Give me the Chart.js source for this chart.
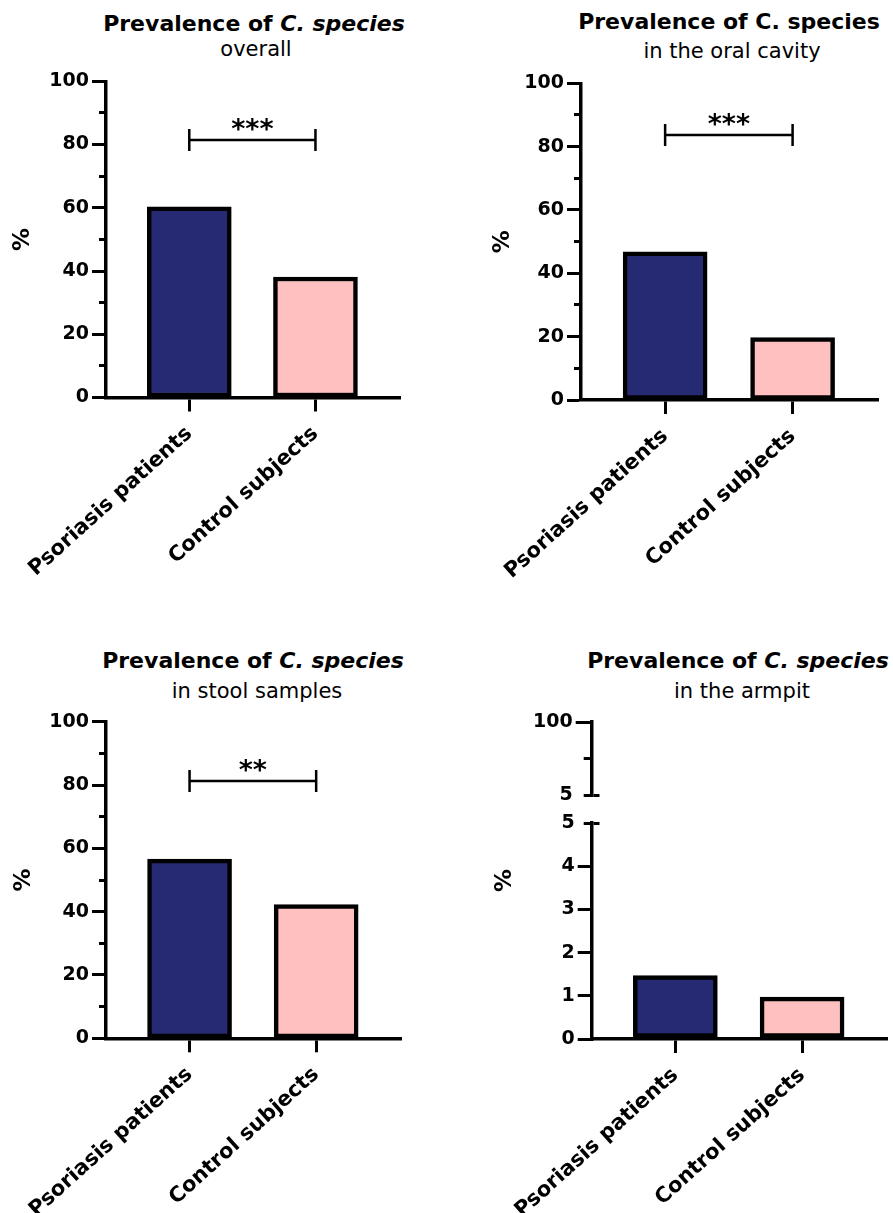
<!DOCTYPE html>
<html>
<head>
<meta charset="utf-8">
<script src="https://cdn.jsdelivr.net/npm/chart.js@4.4.1/dist/chart.umd.min.js"></script>
<style>
  body { margin: 0; background: #fff; width: 893px; height: 1213px; position: relative; overflow: hidden; font-family: "DejaVu Sans", sans-serif; }
  canvas { position: absolute; }
  .t { position: absolute; white-space: nowrap; transform: translateX(-50%); line-height: 1; color: #000; }
  .main { font-size: 22px; font-weight: bold; }
  .sub { font-size: 21px; }
</style>
</head>
<body>
<div class="t main" style="left:254px;top:13px">Prevalence of <i>C. species</i></div>
<div class="t sub" style="left:256px;top:39px">overall</div>
<div class="t main" style="left:729px;top:11px">Prevalence of C. species</div>
<div class="t sub" style="left:732px;top:41px">in the oral cavity</div>
<div class="t main" style="left:253px;top:650px">Prevalence of <i>C. species</i></div>
<div class="t sub" style="left:257px;top:681px">in stool samples</div>
<div class="t main" style="left:738px;top:650px">Prevalence of <i>C. species</i></div>
<div class="t sub" style="left:742px;top:681px">in the armpit</div>

<canvas id="c1" width="446" height="600" style="left:0;top:0"></canvas>
<canvas id="c2" width="447" height="600" style="left:446px;top:0"></canvas>
<canvas id="c3" width="446" height="613" style="left:0;top:600px"></canvas>
<canvas id="c4" width="447" height="613" style="left:446px;top:600px"></canvas>

<script>
// values (%)
const categories = ["Psoriasis patients", "Control subjects"];
const overall = [60.3, 38.1];
const oralCavity = [46.8, 19.7];
const stoolSamples = [56.6, 42.2];
const armpit = [1.47, 0.97];

const barColors = ["#262a72", "#ffc0c0"];

// significance brackets
const sigLevels = [81.4, 83.7, 81.3];
const sigLabels = ["***", "***", "**"];

// tick labels
const majorTicks = [0, 20, 40, 60, 80, 100];
const armpitLowTicks = [0, 1, 2, 3, 4, 5];
const armpitHighTicks = [5, 52.5, 100];
const armpitHighLabels = [5, 100];

const black = "#000";
const FAMILY = "DejaVu Sans";
const tickFont = { family: FAMILY, size: 19, weight: "bold" };
const catFont = { family: FAMILY, size: 21, weight: "bold" };
const titleFont = { family: FAMILY, size: 23, weight: "bold" };

const sigPlugin = {
  id: "sig",
  afterDatasetsDraw(chart, args, o) {
    if (!o.label) return;
    const { ctx, scales } = chart;
    const x0 = scales.x.getPixelForValue(0);
    const x1 = scales.x.getPixelForValue(1);
    const yy = scales.y.getPixelForValue(o.level);
    ctx.save();
    ctx.strokeStyle = black;
    ctx.lineWidth = 2.5;
    ctx.beginPath();
    ctx.moveTo(x0, yy); ctx.lineTo(x1, yy);
    ctx.moveTo(x0, yy - 11); ctx.lineTo(x0, yy + 11);
    ctx.moveTo(x1, yy - 11); ctx.lineTo(x1, yy + 11);
    ctx.stroke();
    ctx.fillStyle = black;
    ctx.font = "bold 27px '" + FAMILY + "'";
    ctx.textAlign = "center";
    ctx.textBaseline = "alphabetic";
    ctx.fillText(o.label, (x0 + x1) / 2, yy - 2);
    ctx.restore();
  }
};

function xScale(height) {
  return {
    type: "linear",
    min: -0.66,
    max: 1.67,
    bounds: "data",
    offset: false,
    afterBuildTicks: s => { s.ticks = categories.map((c, i) => ({ value: i })); },
    afterFit: s => { s.height = height; s.paddingLeft = 0; s.paddingRight = 0; },
    border: { color: black, width: 3.5 },
    grid: { offset: false, drawOnChartArea: false, tickLength: 14, tickWidth: 3, tickColor: black },
    ticks: {
      callback: v => categories[v],
      minRotation: 42, maxRotation: 42, autoSkip: false,
      font: catFont, color: black, padding: 10
    }
  };
}

function yTitle(pad) {
  return { display: true, text: "%", font: titleFont, color: black, padding: { top: pad, bottom: 0 } };
}

function percentScale(width, pad) {
  return {
    min: 0, max: 100,
    afterFit: s => { s.width = width; s.paddingTop = 0; s.paddingBottom = 0; },
    border: { color: black, width: 3.5 },
    grid: {
      drawOnChartArea: false, tickLength: 14, tickWidth: 3, tickColor: black,
      tickBorderDash: c => (c.tick && !majorTicks.includes(c.tick.value)) ? [0, 7, 30] : []
    },
    ticks: {
      stepSize: 10, autoSkip: false, font: tickFont, color: black, padding: 3,
      callback: v => majorTicks.includes(v) ? String(v) : ""
    },
    title: yTitle(pad)
  };
}

function barDataset(values) {
  return {
    data: values.map((v, i) => ({ x: i, y: v })),
    backgroundColor: barColors,
    borderColor: black,
    borderWidth: 4.5,
    borderSkipped: false,
    barThickness: 84
  };
}

function baseOptions(padding, scales, sig) {
  return {
    responsive: false,
    animation: false,
    devicePixelRatio: 1,
    layout: { padding },
    plugins: { legend: { display: false }, tooltip: { enabled: false }, sig: sig || {} },
    scales
  };
}

function percentPanel(id, values, box, sigIdx) {
  new Chart(document.getElementById(id), {
    type: "bar",
    data: { datasets: [barDataset(values)] },
    options: baseOptions(
      { left: 0, top: box.top, right: box.right, bottom: 0 },
      { x: xScale(box.xH), y: percentScale(box.yW, box.tp) },
      { level: sigLevels[sigIdx], label: sigLabels[sigIdx] }
    ),
    plugins: [sigPlugin]
  });
}

percentPanel("c1", overall, { top: 81.3, right: 46, xH: 202.5, yW: 106, tp: 9.5 }, 0);
percentPanel("c2", oralCavity, { top: 83.3, right: 15, xH: 200, yW: 135, tp: 43 }, 1);
percentPanel("c3", stoolSamples, { top: 121.7, right: 45, xH: 174.7, yW: 106, tp: 10.5 }, 2);

// armpit: broken y axis (5-100 on top, 0-5 below)
const stackW = 65.7;
new Chart(document.getElementById("c4"), {
  type: "bar",
  data: { datasets: [Object.assign(barDataset(armpit), { yAxisID: "y" })] },
  options: baseOptions(
    { left: 0, top: 122, right: 6, bottom: 0 },
    {
      x: xScale(174),
      yt: {
        type: "linear", position: "left", weight: 10, min: 0, max: 1,
        afterFit: s => { s.width = 80; s.paddingTop = 0; s.paddingBottom = 0; },
        ticks: { display: false }, grid: { display: false }, border: { display: false },
        title: yTitle(45.3)
      },
      yHigh: {
        type: "linear", position: "left", stack: "armpit", stackWeight: 73, weight: 3,
        min: 5, max: 100,
        afterBuildTicks: s => { s.ticks = armpitHighTicks.map(v => ({ value: v })); },
        afterFit: s => { s.width = stackW; s.paddingTop = 0; s.paddingBottom = 0; },
        border: { color: black, width: 3.5, dash: c => c.tick ? [6, 2000] : [] },
        grid: {
          drawOnChartArea: true, lineWidth: 3,
          color: c => (c.tick && c.tick.value === 5) ? black : "rgba(0,0,0,0)",
          tickLength: 16, tickWidth: 3, tickColor: black,
          tickBorderDash: c => (c.tick && c.tick.value !== 100) ? [0, 8, 30] : []
        },
        ticks: {
          autoSkip: false, font: tickFont, color: black, padding: 3,
          callback: v => armpitHighLabels.includes(v) ? String(v) : ""
        }
      },
      yGap: {
        type: "linear", position: "left", stack: "armpit", stackWeight: 28, weight: 2,
        min: 0, max: 1,
        afterFit: s => { s.width = stackW; s.paddingTop = 0; s.paddingBottom = 0; },
        ticks: { display: false }, grid: { display: false }, border: { display: false }
      },
      y: {
        type: "linear", position: "left", stack: "armpit", stackWeight: 216, weight: 1,
        min: 0, max: 5,
        afterFit: s => { s.width = stackW; s.paddingTop = 0; s.paddingBottom = 0; },
        border: { color: black, width: 3.5, dash: c => c.tick ? [6, 2000] : [] },
        grid: {
          drawOnChartArea: true, lineWidth: 3,
          color: c => (c.tick && c.tick.value === 5) ? black : "rgba(0,0,0,0)",
          tickLength: 14, tickWidth: 3, tickColor: black,
          tickBorderDash: c => (c.tick && c.tick.value === 5) ? [0, 6, 30] : []
        },
        ticks: {
          stepSize: 1, autoSkip: false, font: tickFont, color: black, padding: 3,
          callback: v => armpitLowTicks.includes(v) ? String(v) : ""
        }
      }
    }
  ),
  plugins: [sigPlugin]
});
</script>
</body>
</html>
